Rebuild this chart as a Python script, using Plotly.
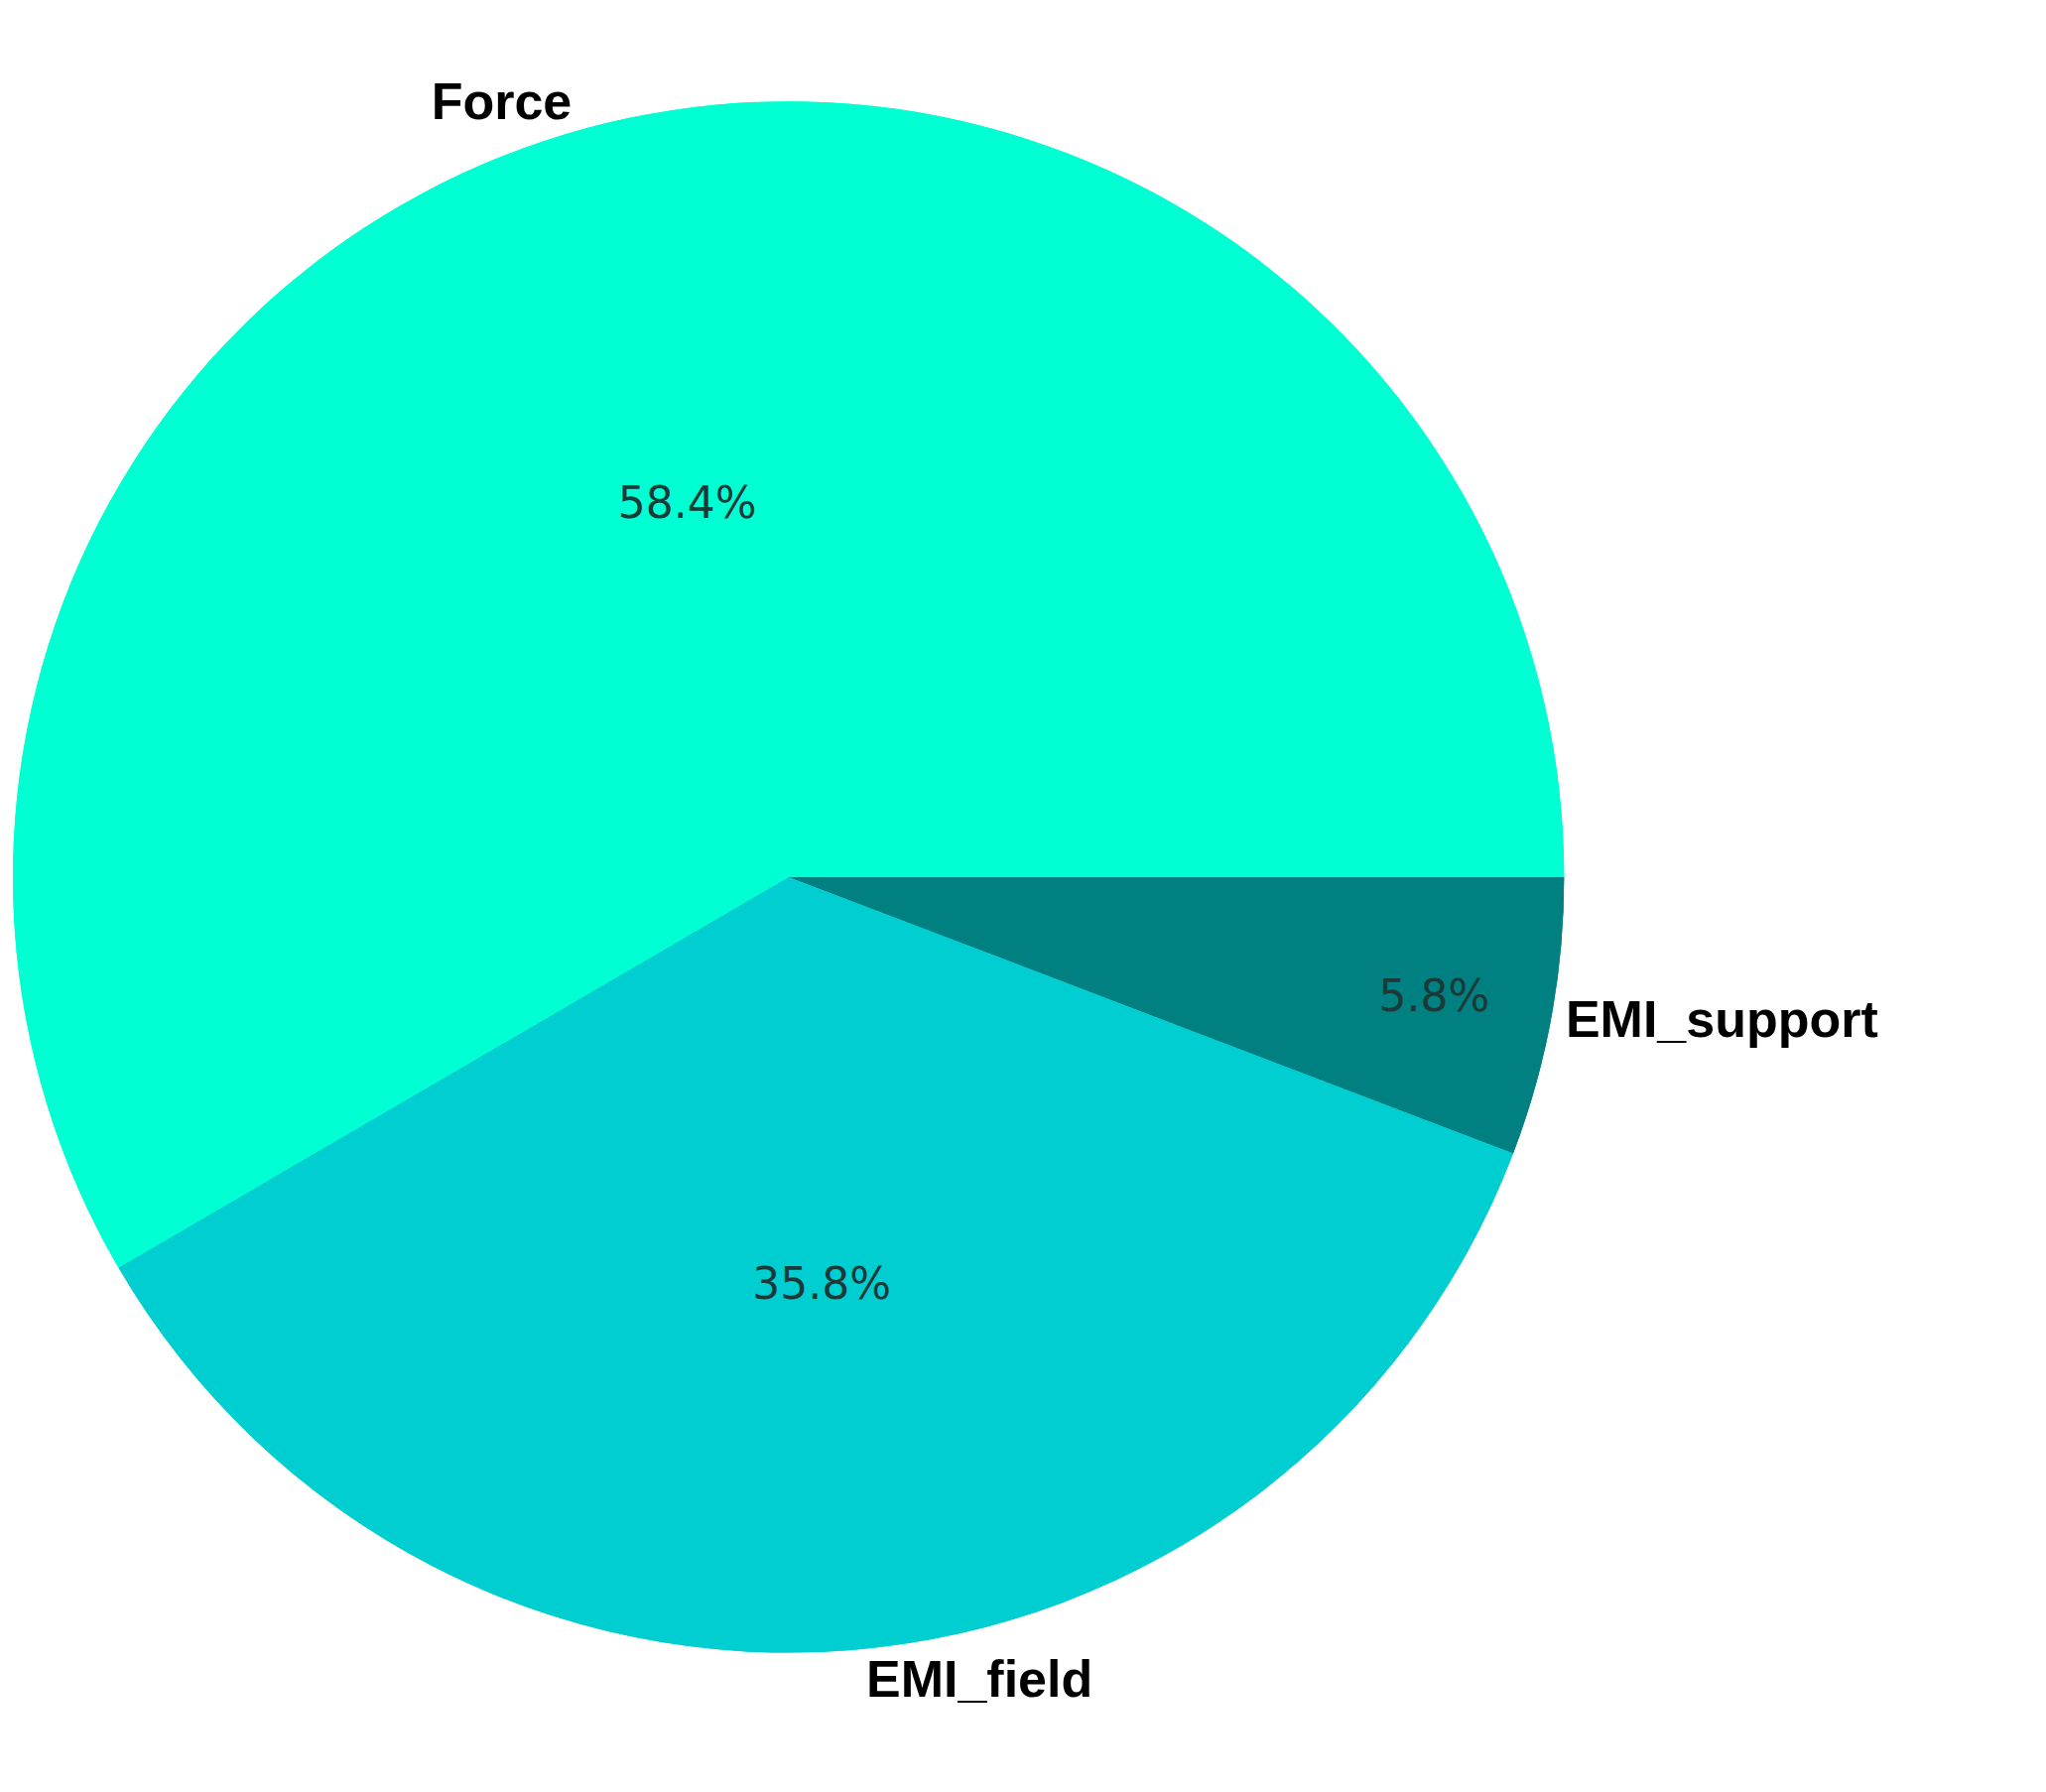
import plotly.graph_objects as go

labels = ["EMI_support", "EMI_field", "Force"]
values = [5.8, 35.8, 58.4]
colors = ["#008080", "#00ced1", "#00ffd2"]

dom = dict(x=[0.0, 0.76], y=[0.072, 0.958])
fig = go.Figure()
fig.add_trace(go.Pie(labels=labels, values=values, sort=False, direction="clockwise",
                     rotation=90, marker=dict(colors=colors), textinfo="label",
                     textposition="outside",
                     textfont=dict(size=52, color="black", family="Liberation Sans", weight="bold"),
                     domain=dom, showlegend=False, hoverinfo="skip"))
fig.add_trace(go.Pie(labels=labels, values=values, sort=False, direction="clockwise",
                     rotation=90, marker=dict(colors=colors), textinfo="percent",
                     texttemplate="%{percent:.1%}", textposition="inside", insidetextorientation="horizontal",
                     textfont=dict(size=44, color="#1a3a3a", family="DejaVu Sans"),
                     domain=dom, showlegend=False))
fig.update_layout(width=2062, height=1806, margin=dict(l=0, r=0, t=0, b=0),
                  paper_bgcolor="white", uniformtext=dict(minsize=40, mode="show"))
fig.write_html("out.html")
